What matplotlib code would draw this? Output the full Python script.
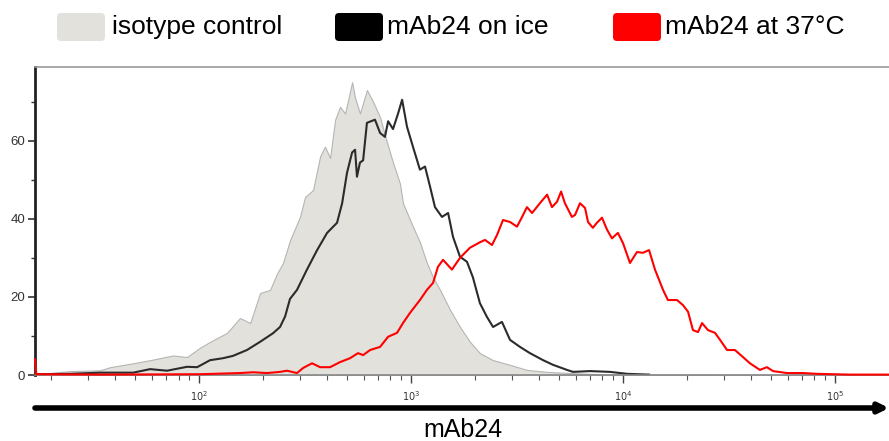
import numpy as np
import matplotlib.pyplot as plt
from matplotlib.patches import FancyBboxPatch, FancyArrowPatch
from matplotlib.ticker import FixedLocator, NullFormatter

plt.rcParams['font.family'] = ['Liberation Sans', 'DejaVu Sans']

# log10 of mAb24 intensity and event counts
iso_log = [1.226, 1.297, 1.392, 1.533, 1.580, 1.689, 1.769, 1.877, 1.943, 2.005,
           2.052, 2.132, 2.193, 2.241, 2.288, 2.335, 2.368, 2.396, 2.429, 2.476,
           2.500, 2.538, 2.571, 2.594, 2.618, 2.642, 2.665, 2.689, 2.722, 2.736,
           2.759, 2.792, 2.821, 2.854, 2.887, 2.915, 2.948, 2.962, 3.009, 3.042,
           3.075, 3.104, 3.137, 3.184, 3.231, 3.278, 3.325, 3.387, 3.467, 3.547,
           3.642, 3.750, 3.892, 4.123, 5.255]
iso_count = [0.3, 0.5, 1.0, 1.2, 2.0, 3.0, 3.8, 5.0, 4.6, 7.0,
             8.5, 10.8, 14.6, 13.3, 21.0, 21.8, 26.0, 28.7, 34.5, 40.5,
             45.6, 47.4, 56.0, 58.5, 55.6, 65.4, 68.7, 67.0, 75.0, 71.0,
             67.0, 73.0, 70.0, 66.0, 59.5, 54.4, 49.0, 44.0, 38.0, 34.0,
             28.7, 25.0, 21.8, 16.7, 12.3, 8.5, 5.6, 3.8, 2.6, 1.3,
             0.8, 0.5, 0.2, 0.1, 0.0]

ice_log = [1.226, 1.392, 1.533, 1.689, 1.769, 1.849, 1.943, 1.991, 2.052, 2.113,
           2.160, 2.226, 2.288, 2.349, 2.382, 2.406, 2.429, 2.462, 2.509, 2.557,
           2.604, 2.651, 2.675, 2.698, 2.722, 2.736, 2.745, 2.759, 2.774, 2.792,
           2.830, 2.854, 2.877, 2.892, 2.915, 2.939, 2.958, 2.981, 3.009, 3.042,
           3.066, 3.090, 3.113, 3.146, 3.175, 3.198, 3.231, 3.264, 3.292, 3.325,
           3.358, 3.387, 3.429, 3.467, 3.514, 3.561, 3.623, 3.670, 3.736, 3.764,
           3.844, 3.939, 4.019, 4.123]
ice_count = [0.2, 0.3, 0.6, 0.6, 1.5, 1.1, 2.1, 2.0, 3.8, 4.3,
             4.9, 6.4, 8.5, 10.7, 12.3, 15.0, 19.5, 21.8, 27.0, 32.0,
             36.4, 39.0, 44.0, 51.8, 57.0, 57.7, 50.8, 54.4, 55.0, 64.6,
             65.4, 62.0, 61.0, 65.0, 63.0, 67.0, 70.5, 63.6, 58.5, 52.6,
             53.4, 48.2, 43.0, 40.5, 41.5, 35.4, 30.3, 29.0, 25.0, 18.4,
             14.9, 12.3, 13.6, 9.0, 7.2, 5.6, 3.8, 2.6, 1.3, 0.8,
             1.0, 0.8, 0.3, 0.1]

warm_log = [1.226, 1.232, 1.533, 2.005, 2.193, 2.255, 2.321, 2.382, 2.415, 2.462,
            2.491, 2.533, 2.571, 2.618, 2.665, 2.712, 2.750, 2.774, 2.807, 2.854,
            2.892, 2.934, 2.962, 2.995, 3.042, 3.075, 3.104, 3.127, 3.151, 3.193,
            3.231, 3.278, 3.325, 3.349, 3.382, 3.406, 3.434, 3.467, 3.500, 3.524,
            3.547, 3.571, 3.608, 3.642, 3.665, 3.689, 3.708, 3.726, 3.759, 3.774,
            3.797, 3.821, 3.835, 3.858, 3.877, 3.901, 3.925, 3.948, 3.976, 4.000,
            4.033, 4.066, 4.094, 4.123, 4.151, 4.189, 4.212, 4.255, 4.283, 4.307,
            4.330, 4.354, 4.373, 4.401, 4.434, 4.458, 4.491, 4.528, 4.566, 4.599,
            4.646, 4.679, 4.708, 4.774, 4.849, 4.915, 5.071, 5.255]
warm_count = [4.0, 0.2, 0.1, 0.2, 0.5, 0.7, 0.5, 0.8, 1.1, 0.5,
              1.8, 3.0, 2.0, 2.0, 3.3, 4.3, 5.6, 5.1, 6.4, 7.2,
              9.8, 10.8, 13.3, 15.9, 19.2, 21.8, 23.6, 27.7, 29.5, 27.0,
              30.0, 32.6, 34.0, 34.6, 33.3, 35.9, 39.7, 39.2, 38.0, 40.5,
              43.0, 41.5, 44.0, 46.2, 43.0, 44.4, 47.0, 44.0, 40.5, 41.0,
              44.0, 42.8, 39.2, 37.7, 39.0, 40.3, 37.2, 35.0, 36.4, 33.8,
              28.7, 31.5, 31.3, 32.0, 27.0, 21.8, 19.2, 19.2, 17.9, 16.2,
              11.5, 11.0, 13.3, 11.5, 10.8, 9.0, 6.4, 6.4, 4.6, 3.0,
              1.3, 2.0, 1.0, 0.5, 0.5, 0.3, 0.1, 0.1]

labels = ['isotype control', 'mAb24 on ice', 'mAb24 at 37°C']
colors = ['#e3e1dc', '#000000', '#ff0000']

W, H = 889, 441
fig = plt.figure(figsize=(W / 100, H / 100), dpi=100)
ax = fig.add_axes([35 / W, 1 - 375 / H, (W - 35) / W, (375 - 67) / H])

ax.fill_between(10 ** np.array(iso_log), iso_count, color='#e3e1dc',
                edgecolor='#b5b5b5', linewidth=0.8, zorder=1)
ax.plot(10 ** np.array(ice_log), ice_count, color='#2b2b2b', lw=1.5, zorder=2)
ax.plot(10 ** np.array(warm_log), warm_count, color='#ff0000', lw=1.5,
        zorder=3, clip_on=False)

ax.set_xscale('log')
ax.set_xlim(10 ** 1.226, 10 ** 5.255)
ax.set_ylim(0, 78.9)

ax.xaxis.set_major_locator(FixedLocator([1e2, 1e3, 1e4, 1e5]))
ax.set_xticklabels([r'$10^{2}$', r'$10^{3}$', r'$10^{4}$', r'$10^{5}$'])
minor = [m * 10 ** e for e in range(1, 6) for m in range(2, 10)]
ax.xaxis.set_minor_locator(FixedLocator(minor))
ax.xaxis.set_minor_formatter(NullFormatter())
ax.set_yticks([0, 20, 40, 60])
ax.set_yticks([10, 30, 50, 70], minor=True)

ax.tick_params(axis='x', which='major', length=6, width=1, color='#444',
               labelsize=7, labelcolor='#333', pad=4)
ax.tick_params(axis='x', which='minor', length=3.5, width=0.8, color='#555')
ax.tick_params(axis='y', which='major', length=5, width=1.2, color='#333',
               labelsize=9.5, labelcolor='#333', pad=2)
ax.tick_params(axis='y', which='minor', length=3, width=1, color='#333')

ax.spines['left'].set_linewidth(2)
ax.spines['left'].set_color('#222')
ax.spines['bottom'].set_color('#888')
ax.spines['bottom'].set_linewidth(1.2)
ax.spines['top'].set_color('#999')
ax.spines['top'].set_linewidth(1.2)
ax.spines['right'].set_visible(False)

# axis arrow and label below the plot
arrow = FancyArrowPatch((35 / W, 1 - 408 / H), (1.0, 1 - 408 / H),
                        transform=fig.transFigure, arrowstyle='-|>',
                        mutation_scale=14, lw=4, color='black',
                        shrinkA=0, shrinkB=0, capstyle='round')
fig.add_artist(arrow)
fig.text(463 / W, 1 - 430 / H, 'mAb24', ha='center', va='center', fontsize=18)

# legend drawn as rounded swatches with text
swatch_x = [57, 335, 613]
text_x = [112, 387, 665]
for sx, tx, c, lab in zip(swatch_x, text_x, colors, labels):
    box = FancyBboxPatch((sx / 100, (H - 41) / 100), 0.48, 0.28,
                         boxstyle='round,pad=0,rounding_size=0.04',
                         transform=fig.dpi_scale_trans, facecolor=c,
                         edgecolor='none')
    fig.add_artist(box)
    fig.text(tx / W, 1 - 27 / H, lab, ha='left', va='center', fontsize=19)

fig.savefig('out.png', dpi=100)
